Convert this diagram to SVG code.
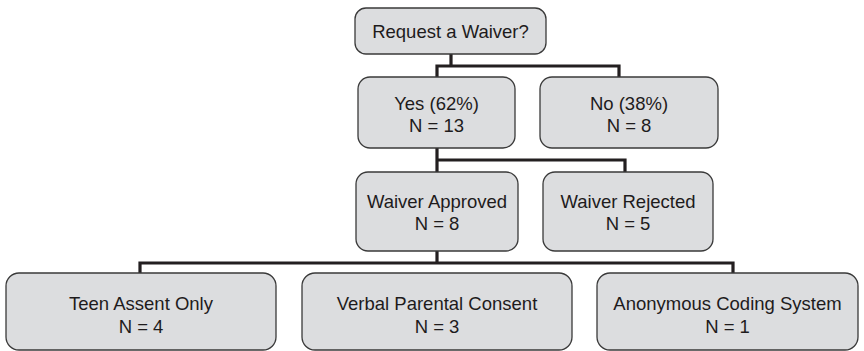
<svg xmlns="http://www.w3.org/2000/svg" width="864" height="351" viewBox="0 0 864 351">
<style>
.box{fill:#dcdddf;stroke:#3a3a3a;stroke-width:1.3}
.t{font-family:"Liberation Sans",Arial,sans-serif;font-size:18.5px;fill:#1e1b1c;text-anchor:middle}
.c{fill:none;stroke:#231f20;stroke-width:3.2;stroke-linejoin:miter}
</style>
<rect width="864" height="351" fill="#ffffff"/>
<g id="connectors">
<path class="c" d="M451,54 V66 M437,78 V66 H619 V78"/>
<path class="c" d="M437,148 V160 M437,172 V160 H625 V172"/>
<path class="c" d="M437,251 V263 M140,274 V263 H733 V274"/>
</g>
<g id="request"><rect class="box" x="355" y="8" width="191" height="46" rx="11"/><text class="t" x="450.5" y="38">Request a Waiver?</text></g>
<g id="yes"><rect class="box" x="358" y="77" width="157" height="71" rx="12"/><text class="t" x="436.5" y="109.5">Yes (62%)</text><text class="t" x="436.5" y="131.5">N = 13</text></g>
<g id="no"><rect class="box" x="540" y="77" width="178" height="71" rx="12"/><text class="t" x="629" y="109.5">No (38%)</text><text class="t" x="629" y="131.5">N = 8</text></g>
<g id="approved"><rect class="box" x="356" y="172" width="162" height="79" rx="12"/><text class="t" x="437" y="207.5">Waiver Approved</text><text class="t" x="437" y="229.5">N = 8</text></g>
<g id="rejected"><rect class="box" x="543" y="172" width="170" height="79" rx="12"/><text class="t" x="628" y="207.5">Waiver Rejected</text><text class="t" x="628" y="229.5">N = 5</text></g>
<g id="teen"><rect class="box" x="6" y="273" width="270" height="77" rx="13"/><text class="t" x="141" y="309.5">Teen Assent Only</text><text class="t" x="141" y="332.5">N = 4</text></g>
<g id="verbal"><rect class="box" x="302" y="273" width="270" height="77" rx="13"/><text class="t" x="437" y="309.5">Verbal Parental Consent</text><text class="t" x="437" y="332.5">N = 3</text></g>
<g id="anonymous"><rect class="box" x="597" y="273" width="261" height="77" rx="13"/><text class="t" x="727.5" y="309.5">Anonymous Coding System</text><text class="t" x="727.5" y="332.5">N = 1</text></g>
</svg>
